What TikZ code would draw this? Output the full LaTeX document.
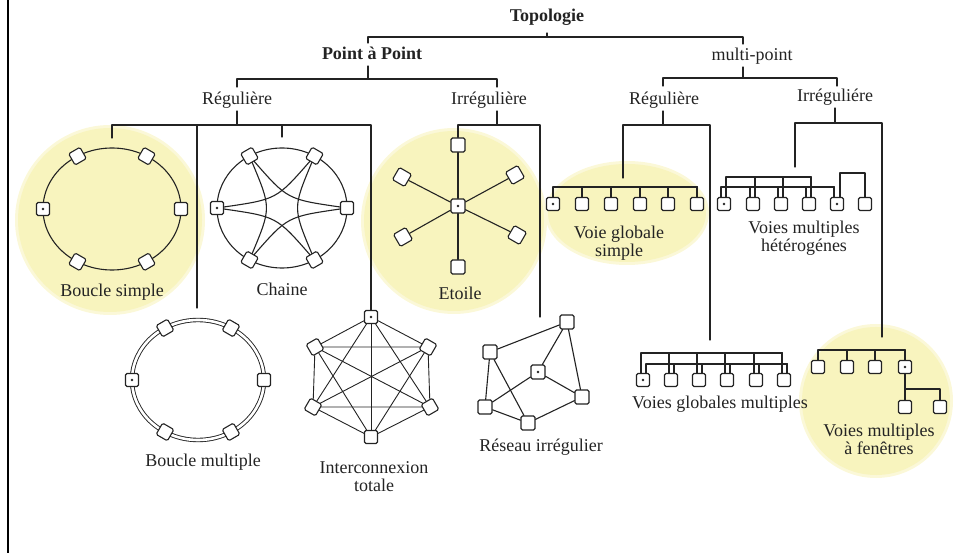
\documentclass[tikz,border=0pt]{standalone}
\usepackage{fontspec}
\setmainfont{Liberation Serif}
\usetikzlibrary{calc}
\definecolor{halo}{RGB}{248,244,190}
\definecolor{ink}{RGB}{35,35,35}
\pgfdeclarelayer{glow}
\pgfdeclarelayer{under}
\pgfsetlayers{glow,under,main}
\begin{document}
\begin{tikzpicture}[x=1pt,y=-1pt,
  wire/.style={draw=ink,line width=1.1pt,line cap=round,line join=round},
  term/.style={shape=rectangle,draw=ink,fill=white,line width=1.1pt,rounded corners=1.5pt,minimum size=13pt,inner sep=0pt},
  bigterm/.style={term,minimum size=14pt},
  lbl/.style={font=\fontsize{18}{18}\selectfont,text=ink,inner sep=0pt,anchor=base,align=center},
  head/.style={lbl,font=\fontsize{18}{18}\selectfont\bfseries},
  hubdot/.style={fill=ink},
  halofill/.style={fill=halo}]

\useasboundingbox (0,0) rectangle (954,553);

% page edge
\draw[line width=2.5pt,black] (8,0) -- (8,553);

% highlighted families
\begin{pgfonlayer}{glow}
  \fill[halo!60] (110,220) circle (95pt);
  \fill[halofill] (110,220) circle (92pt);
  \fill[halo!60] (454,221) circle (93pt);
  \fill[halofill] (454,221) circle (90pt);
  \fill[halo!60] (627,213) ellipse [x radius=82pt, y radius=52pt];
  \fill[halofill] (627,213) ellipse [x radius=79pt, y radius=49pt];
  \fill[halo!60] (876,401) circle (77pt);
  \fill[halofill] (876,401) circle (74pt);
\end{pgfonlayer}

% ---------- classification tree ----------
\node[head] (topo) at (547,22) {Topologie};
\node[head] (pap) at (372,60) {Point à Point};
\node[lbl] (mp) at (752,61) {multi-point};
\node[lbl] (preg) at (237,105) {Régulière};
\node[lbl] (pirr) at (489,105) {Irrégulière};
\node[lbl] (mreg) at (664,105) {Régulière};
\node[lbl] (mirr) at (835,102) {Irréguliére};

% Topologie
\coordinate (t-s) at (547,33); \coordinate (t-j) at (547,37);
\coordinate (t-l) at (368,43); \coordinate (t-r) at (743,44);
\draw[wire] (t-s) -- (t-j);
\draw[wire] (t-l) |- (t-j) -| (t-r);

% Point a Point
\coordinate (p-s) at (368,66); \coordinate (p-j) at (368,79);
\coordinate (p-l) at (237,87); \coordinate (p-r) at (497,87);
\draw[wire] (p-s) -- (p-j);
\draw[wire] (p-l) |- (p-j) -| (p-r);

% multi-point
\coordinate (m-s) at (743,67); \coordinate (m-j) at (743,78);
\coordinate (m-l) at (663,86); \coordinate (m-r) at (837,86);
\draw[wire] (m-s) -- (m-j);
\draw[wire] (m-l) |- (m-j) -| (m-r);

% ---------- Boucle simple ----------
\begin{pgfonlayer}{under}
  \draw[wire] (112,209) ellipse [x radius=69pt, y radius=61pt];
\end{pgfonlayer}
\foreach \a/\n in {0/1,60/2,120/3,180/4,240/5,300/6}
  \node[term,rotate=\a] (bs\n) at ({112+69*cos(\a)},{209-61*sin(\a)}) {};
\fill[hubdot] (bs4) circle (1.4pt);
\node[lbl] (lbs) at (112,297) {Boucle simple};

% ---------- Chaine ----------
\coordinate (chc) at (282,208);
\begin{pgfonlayer}{under}
  \draw[wire] (chc) ellipse [x radius=65pt, y radius=60pt];
\end{pgfonlayer}
\foreach \a/\n in {0/1,60/2,120/3,180/4,240/5,300/6}
  \node[term,rotate=\a] (ch\n) at ({282+65*cos(\a)},{208-60*sin(\a)}) {};
\fill[hubdot] (ch4) circle (1.4pt);
\foreach \p/\q in {4/2,2/6,6/4,1/3,3/5,5/1}
  \draw[wire] (ch\p) .. controls ($(ch\p)!0.5!(ch\q)!0.667!(chc)$) .. (ch\q);
\node[lbl] (lch) at (282,296) {Chaine};

% ---------- Etoile ----------
\node[bigterm] (e0) at (458,206) {};
\fill[hubdot] (e0) circle (1.4pt);
\node[bigterm] (e1) at (458,145) {};
\node[bigterm,rotate=30] (e2) at (515,175) {};
\node[bigterm,rotate=-30] (e3) at (517,235) {};
\node[bigterm] (e4) at (458,267) {};
\node[bigterm,rotate=30] (e5) at (403,237) {};
\node[bigterm,rotate=-30] (e6) at (402,177) {};
\foreach \i in {1,...,6} \draw[wire] (e0) -- (e\i);
\node[lbl] (let) at (460,300) {Etoile};

% ---------- Voie globale simple ----------
\foreach \x [count=\i] in {553,582,611,640,668,697}
  \node[term] (v\i) at (\x,204) {};
\fill[hubdot] (v1) circle (1.4pt);
\coordinate (vA) at (697,187);
\foreach \i in {1,...,6} \draw[wire] (v\i) |- (vA);
% base anchor of a two-line label sits on its last line
\node[lbl] (lvg) at (619,257) {Voie globale\\simple};

% ---------- Voies multiples heterogenes ----------
\foreach \x [count=\i] in {724,753,781,809,837,865}
  \node[term] (h\i) at (\x,204) {};
\fill[hubdot] (h1) circle (1.4pt);
\fill[hubdot] (h5) circle (1.4pt);
\coordinate (hA) at (811,177);
\coordinate (hB) at (834,187);
\coordinate (hC) at (865,173);
\foreach \i in {1,...,4} \draw[wire] (h\i.north) ++(2pt,0) |- (hA);
\foreach \i in {1,...,5} \draw[wire] (h\i.north) ++(-3pt,0) |- (hB);
\draw[wire] (h5.north) ++(3pt,0) |- (hC) -- (h6);
\node[lbl] (lvh) at (804,252) {Voies multiples\\hétérogénes};

% ---------- Boucle multiple ----------
\begin{pgfonlayer}{under}
  \draw[draw=ink,line width=0.9pt,double=white,double distance=2.6pt] (198,380) ellipse [x radius=66pt, y radius=60pt];
\end{pgfonlayer}
\foreach \a/\n in {0/1,60/2,120/3,180/4,240/5,300/6}
  \node[term,rotate=\a] (bm\n) at ({198+66*cos(\a)},{380-60*sin(\a)}) {};
\fill[hubdot] (bm4) circle (1.4pt);
\node[lbl] (lbm) at (203,467) {Boucle multiple};

% ---------- Interconnexion totale ----------
\node[term] (i1) at (371,317) {};
\node[term,rotate=30] (i2) at (315,347) {};
\node[term,rotate=-30] (i3) at (428,347) {};
\node[term,rotate=-30] (i4) at (313,407) {};
\node[term,rotate=30] (i5) at (430,407) {};
\node[term] (i6) at (371,437) {};
\fill[hubdot] (i1) circle (1.4pt);
\begin{pgfonlayer}{under}
\foreach \p/\q in {1/2,1/3,1/4,1/5,1/6,2/3,2/4,2/5,2/6,3/4,3/5,3/6,4/5,4/6,5/6}
  \draw[wire,line width=0.9pt] (i\p) -- (i\q);
\end{pgfonlayer}
\node[lbl] (lit) at (374,491) {Interconnexion\\totale};

% ---------- Reseau irregulier ----------
\node[bigterm] (r1) at (567,322) {};
\node[bigterm] (r2) at (490,352) {};
\node[bigterm] (r3) at (538,372) {};
\node[bigterm] (r4) at (582,397) {};
\node[bigterm] (r5) at (485,407) {};
\node[bigterm] (r6) at (528,423) {};
\fill[hubdot] (r3) circle (1.4pt);
\foreach \p/\q in {1/2,1/3,1/4,2/5,2/6,3/5,3/4,5/6,6/4}
  \draw[wire] (r\p) -- (r\q);
\node[lbl] (lri) at (541,452) {Réseau irrégulier};

% ---------- Voies globales multiples ----------
\foreach \x [count=\i] in {643,671,699,727,756,784}
  \node[term] (g\i) at (\x,380) {};
\fill[hubdot] (g1) circle (1.4pt);
\coordinate (gA) at (782,353);
\coordinate (gB) at (787,364);
\foreach \i in {1,...,6} \draw[wire] (g\i.north) ++(-2pt,0) |- (gA);
\foreach \i in {1,...,6} \draw[wire] (g\i.north) ++(3pt,0) |- (gB);
\node[lbl] (lgm) at (720,409) {Voies globales multiples};

% ---------- Voies multiples a fenetres ----------
\foreach \x [count=\i] in {818,847,875,905}
  \node[term] (f\i) at (\x,367) {};
\fill[hubdot] (f4) circle (1.4pt);
\node[term] (f5) at (905,407) {};
\node[term] (f6) at (940,407) {};
\coordinate (fA) at (905,350);
\foreach \i in {1,...,4} \draw[wire] (f\i) |- (fA);
\draw[wire] (f4) -- (f5);
\coordinate (fJ) at (905,389); \coordinate (fK) at (940,389);
\draw[wire] (fJ) -- (fK) -- (f6);
\node[lbl] (lvf) at (879,454) {Voies multiples\\à fenêtres};

% ---------- branches under the second level ----------
% Point a Point / Reguliere
\coordinate (r-s) at (237,111); \coordinate (r-j) at (237,125);
\coordinate (r-a) at (112,138); \coordinate (r-b) at (197,308); \coordinate (r-c) at (282,137);
\draw[wire] (r-s) -- (r-j);
\draw[wire] (r-a) |- (r-j) -| (i1);
\draw[wire] (r-b |- r-j) -- (r-b);
\draw[wire] (r-c |- r-j) -- (r-c);

% Point a Point / Irreguliere
\coordinate (q-s) at (497,111); \coordinate (q-j) at (497,125); \coordinate (q-b) at (540,317);
\draw[wire] (q-s) -- (q-j);
\draw[wire] (e1) |- (q-j) -| (q-b);

% multi-point / Reguliere
\coordinate (n-s) at (663,111); \coordinate (n-j) at (663,125);
\coordinate (n-a) at (623,178); \coordinate (n-b) at (710,340);
\draw[wire] (n-s) -- (n-j);
\draw[wire] (n-a) |- (n-j) -| (n-b);

% multi-point / Irreguliere
\coordinate (o-s) at (835,108); \coordinate (o-j) at (835,123);
\coordinate (o-a) at (795,167); \coordinate (o-b) at (882,337);
\draw[wire] (o-s) -- (o-j);
\draw[wire] (o-a) |- (o-j) -| (o-b);

\end{tikzpicture}
\end{document}
